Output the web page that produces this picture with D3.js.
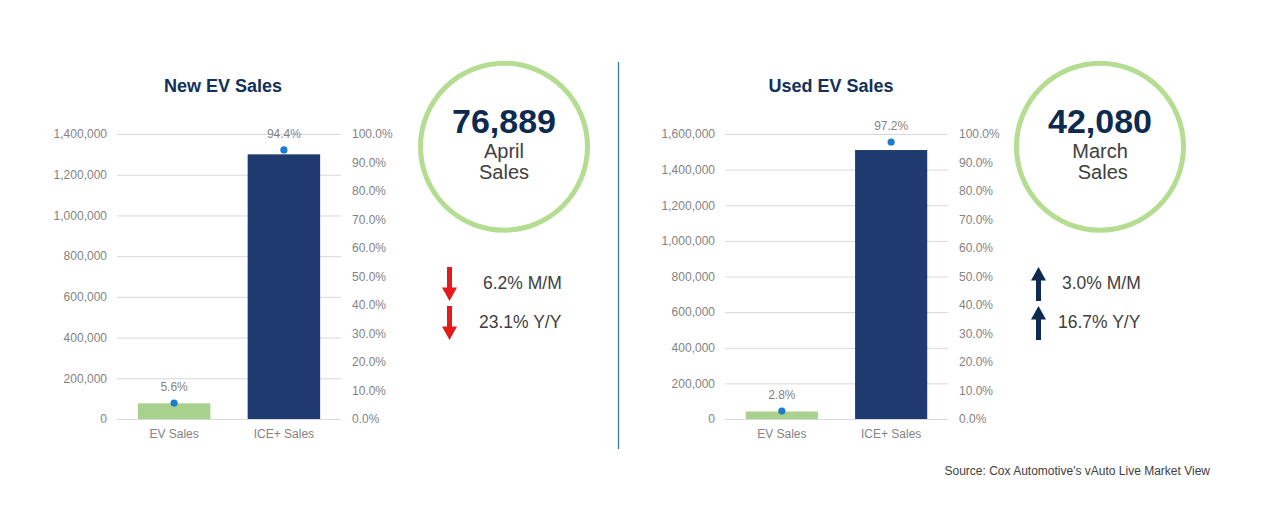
<!DOCTYPE html>
<html>
<head>
<meta charset="utf-8">
<script src="https://cdn.jsdelivr.net/npm/d3@7"></script>
<style>
  html, body { margin: 0; padding: 0; background: #fff; }
  svg { display: block; font-family: Arial, "Liberation Sans", sans-serif; }
  .tick text { fill: #838383; font-size: 12px; }
</style>
</head>
<body>
<svg id="chart" width="1280" height="518"></svg>
<script>
// Data
const categories = ['EV Sales', 'ICE+ Sales'];

const newSales = [76889, 1300000];
const newShare = [5.6, 94.4];
const newMax = 1400000;

const usedSales = [42080, 1510000];
const usedShare = [2.8, 97.2];
const usedMax = 1600000;

const shareTicks = [0, 10, 20, 30, 40, 50, 60, 70, 80, 90, 100];

const newKpi = { value: 76889, line1: 'April', line2: 'Sales' };
const usedKpi = { value: 42080, line1: 'March', line2: ' Sales' };

const newChanges = [{ value: 6.2, label: 'M/M', dir: 'down' }, { value: 23.1, label: 'Y/Y', dir: 'down' }];
const usedChanges = [{ value: 3.0, label: 'M/M', dir: 'up' }, { value: 16.7, label: 'Y/Y', dir: 'up' }];

const COLORS = {
  ev: '#a9d18e',
  ice: '#1e3a6e',
  dot: '#1b7ccc',
  grid: '#d9d9d9',
  title: '#13305a',
  text: '#404040',
  ring: '#b5dd91',
  down: '#e31b1b',
  up: '#0f2a4f',
  divider: '#2f78ad',
};

const svg = d3.select('#chart');
const fmtNum = d3.format(',');

function drawPanel(opts) {
  const g = svg.append('g').attr('class', 'panel');

  const y = d3.scaleLinear().domain([0, opts.max]).range([419, 134]);
  const y2 = d3.scaleLinear().domain([0, 100]).range([419, 134]);
  const x = d3.scaleBand().domain(categories).range([opts.x0, opts.x1])
    .paddingInner(0.34).paddingOuter(0.19);

  // Primary axis with gridlines
  g.append('g')
      .attr('transform', `translate(${opts.x0},0)`)
      .call(d3.axisLeft(y).ticks(opts.max / 200000).tickFormat(fmtNum)
        .tickSize(-(opts.x1 - opts.x0)).tickPadding(10))
      .call((a) => a.select('.domain').remove())
      .call((a) => a.selectAll('.tick line').attr('stroke', COLORS.grid));

  // Secondary (share) axis
  g.append('g')
      .attr('transform', `translate(${opts.x1},0)`)
      .call(d3.axisRight(y2).tickValues(shareTicks).tickFormat((d) => d.toFixed(1) + '%')
        .tickSize(0).tickPadding(11))
      .call((a) => a.select('.domain').remove());

  // Category axis labels
  g.append('g')
      .attr('transform', 'translate(0,419)')
      .call(d3.axisBottom(x).tickSize(0).tickPadding(10))
      .call((a) => a.select('.domain').remove());

  const rows = categories.map((c, i) => ({ cat: c, sales: opts.sales[i], share: opts.share[i], i }));

  g.selectAll('.bar').data(rows).enter().append('rect')
      .attr('class', 'bar')
      .attr('x', (d) => x(d.cat))
      .attr('width', x.bandwidth())
      .attr('y', (d) => y(d.sales))
      .attr('height', (d) => y(0) - y(d.sales))
      .attr('fill', (d) => (d.i === 0 ? COLORS.ev : COLORS.ice));

  const cx = (d) => x(d.cat) + x.bandwidth() / 2;

  g.selectAll('.dot').data(rows).enter().append('circle')
      .attr('class', 'dot')
      .attr('cx', cx)
      .attr('cy', (d) => y2(d.share))
      .attr('r', 3.6)
      .attr('fill', COLORS.dot);

  g.selectAll('.share-label').data(rows).enter().append('text')
      .attr('class', 'share-label')
      .attr('x', cx)
      .attr('y', (d) => y2(d.share) - 12)
      .attr('text-anchor', 'middle')
      .attr('fill', '#838383')
      .style('font-size', '12px')
      .text((d) => d.share.toFixed(1) + '%');

  g.append('text')
      .attr('x', opts.titleX)
      .attr('y', 92)
      .attr('text-anchor', 'middle')
      .attr('fill', COLORS.title)
      .style('font-size', '18px')
      .style('font-weight', 'bold')
      .text(opts.title);

  // KPI ring
  const ring = g.append('g').attr('transform', `translate(${opts.ringX},146.7)`);
  ring.append('circle').attr('r', 83.5)
      .attr('fill', 'none').attr('stroke', COLORS.ring).attr('stroke-width', 5);
  ring.append('text').attr('y', -13.5).attr('text-anchor', 'middle')
      .attr('fill', '#0f2a4f').style('font-size', '34px').style('font-weight', 'bold')
      .text(fmtNum(opts.kpi.value));
  ring.append('text').attr('y', 11.5).attr('text-anchor', 'middle')
      .attr('fill', COLORS.text).style('font-size', '20px').style('white-space', 'pre')
      .text(opts.kpi.line1);
  ring.append('text').attr('y', 32.5).attr('text-anchor', 'middle')
      .attr('fill', COLORS.text).style('font-size', '20px').style('white-space', 'pre')
      .text(opts.kpi.line2);

  // Change rows with arrows
  const change = g.selectAll('.change').data(opts.changes).enter().append('g')
      .attr('class', 'change')
      .attr('transform', (d, i) => `translate(0,${289 + i * 39})`);

  change.append('path')
      .attr('d', (d) => {
        const ax = opts.arrowX;
        const top = -22;
        const bot = 12;
        const sw = 2.5;
        const hw = 7.5;
        const hh = 13.5;
        if (d.dir === 'down') {
          return `M${ax - sw},${top}H${ax + sw}V${bot - hh}H${ax + hw}L${ax},${bot}L${ax - hw},${bot - hh}H${ax - sw}Z`;
        }
        return `M${ax - sw},${bot}H${ax + sw}V${top + hh}H${ax + hw}L${ax},${top}L${ax - hw},${top + hh}H${ax - sw}Z`;
      })
      .attr('fill', (d) => (d.dir === 'down' ? COLORS.down : COLORS.up));

  change.append('text')
      .attr('x', (d, i) => opts.textX + (i === 0 ? 2 : -2))
      .attr('y', 0)
      .attr('fill', COLORS.text)
      .style('font-size', '17.5px')
      .text((d) => `${d.value.toFixed(1)}% ${d.label}`);
}

drawPanel({
  title: 'New EV Sales', titleX: 223,
  x0: 117, x1: 341, max: newMax,
  sales: newSales, share: newShare,
  ringX: 504, kpi: newKpi,
  arrowX: 449.5, textX: 481, changes: newChanges,
});

drawPanel({
  title: 'Used EV Sales', titleX: 831,
  x0: 725, x1: 948, max: usedMax,
  sales: usedSales, share: usedShare,
  ringX: 1100, kpi: usedKpi,
  arrowX: 1038.5, textX: 1060, changes: usedChanges,
});

// Divider between panels
svg.append('line')
    .attr('x1', 618.5).attr('x2', 618.5)
    .attr('y1', 62).attr('y2', 449)
    .attr('stroke', COLORS.divider).attr('stroke-width', 1.2);

svg.append('text')
    .attr('x', 1210).attr('y', 475)
    .attr('text-anchor', 'end')
    .attr('fill', COLORS.text)
    .style('font-size', '12px')
    .text("Source: Cox Automotive's vAuto Live Market View");
</script>
</body>
</html>
